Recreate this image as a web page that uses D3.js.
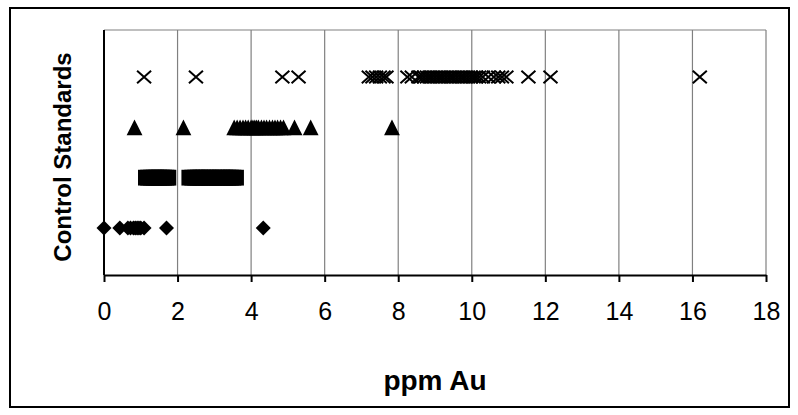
<!DOCTYPE html>
<html>
<head>
<meta charset="utf-8">
<script src="https://cdn.jsdelivr.net/npm/d3@7"></script>
<style>
  body { margin: 0; background: #fff; }
  text { font-family: Arial, "Liberation Sans", sans-serif; }
</style>
</head>
<body>
<div id="viz"></div>
<script>
// each control standard is a row, values in ppm Au
var diamondVals = [0, 0.43, 0.65, 0.72, 0.8, 0.85, 0.9, 0.95, 1.0, 1.09, 1.7, 4.33];
var squareVals = [1.14, 1.2, 1.28, 1.35, 1.42, 1.5, 1.57, 1.63, 1.7, 1.75,
  2.32, 2.4, 2.48, 2.55, 2.62, 2.7, 2.78, 2.85, 2.9, 3.0, 3.08, 3.15, 3.22,
  3.3, 3.38, 3.45, 3.52, 3.59];
var triangleVals = [0.83, 2.16, 3.54, 3.62, 3.7, 3.78, 3.85, 3.92, 4.0, 4.05,
  4.1, 4.15, 4.2, 4.28, 4.35, 4.42, 4.5, 4.58, 4.65, 4.72, 4.8, 4.88, 5.18,
  5.62, 7.83];
var crossVals = [1.09, 2.5, 4.85, 5.29, 7.2, 7.3, 7.4, 7.5, 7.6, 7.68, 8.25,
  8.37, 8.55, 8.62, 8.7, 8.78, 8.85, 8.92, 9.0, 9.08, 9.15, 9.22, 9.3, 9.38,
  9.45, 9.52, 9.6, 9.68, 9.75, 9.82, 9.9, 9.98, 10.05, 10.12, 10.2, 10.3,
  10.45, 10.6, 10.72, 10.82, 10.94, 11.54, 12.14, 16.2];
var rowLevels = [1, 2, 3, 4];
var xTicks = [0, 2, 4, 6, 8, 10, 12, 14, 16, 18];
var xTitle = 'ppm Au';
var yTitle = 'Control Standards';

var width = 798, height = 415;
var plotL = 104, plotR = 766, plotT = 30, plotB = 275;

var svg = d3.select('#viz').append('svg')
  .attr('width', width)
  .attr('height', height);

svg.append('rect')
  .attr('x', 10).attr('y', 8)
  .attr('width', 779).attr('height', 399)
  .attr('fill', '#fff')
  .attr('stroke', '#000')
  .attr('stroke-width', 2);

var x = d3.scaleLinear().domain([0, 18]).range([plotL, plotR]);
// rows sit at even steps inside the plot
var y = d3.scaleLinear().domain([1, 4]).range([228, 77]);

// gridlines + top border
svg.append('g')
  .selectAll('line').data(xTicks.slice(1))
  .enter().append('line')
    .attr('x1', function(d) { return x(d); })
    .attr('x2', function(d) { return x(d); })
    .attr('y1', plotT).attr('y2', plotB)
    .attr('stroke', '#808080')
    .attr('stroke-width', 1.2);
svg.append('line')
  .attr('x1', plotL).attr('x2', plotR)
  .attr('y1', plotT).attr('y2', plotT)
  .attr('stroke', '#808080')
  .attr('stroke-width', 1.2);

// x axis
var xAxis = svg.append('g')
  .attr('transform', 'translate(0,' + plotB + ')')
  .call(d3.axisBottom(x).tickValues(xTicks).tickSize(7).tickPadding(20).tickSizeOuter(0));
xAxis.select('.domain').attr('stroke', '#000').attr('stroke-width', 2);
xAxis.selectAll('.tick line').attr('stroke', '#000').attr('stroke-width', 2);
xAxis.selectAll('.tick text')
  .attr('font-size', 25)
  .attr('font-family', 'Arial, "Liberation Sans", sans-serif')
  .attr('fill', '#000');

// y axis line
svg.append('line')
  .attr('x1', plotL).attr('x2', plotL)
  .attr('y1', plotT).attr('y2', plotB)
  .attr('stroke', '#000')
  .attr('stroke-width', 2);

// custom marker shapes
var diamondShape = {
  draw: function(ctx, size) {
    var r = Math.sqrt(size) / 2;
    ctx.moveTo(0, -r); ctx.lineTo(r, 0); ctx.lineTo(0, r); ctx.lineTo(-r, 0); ctx.closePath();
  }
};
var squareShape = {
  draw: function(ctx, size) {
    var r = Math.sqrt(size) / 2;
    ctx.rect(-r, -r, 2 * r, 2 * r);
  }
};
var triangleShape = {
  draw: function(ctx, size) {
    var r = Math.sqrt(size) / 2;
    ctx.moveTo(0, -r); ctx.lineTo(r, r); ctx.lineTo(-r, r); ctx.closePath();
  }
};
var crossShape = {
  draw: function(ctx, size) {
    var r = Math.sqrt(size) / 2;
    ctx.moveTo(-r, -r * 0.9); ctx.lineTo(r, r * 0.9);
    ctx.moveTo(r, -r * 0.9); ctx.lineTo(-r, r * 0.9);
  }
};

var series = [
  { vals: diamondVals, shape: diamondShape, size: 225, fill: '#000', stroke: 'none' },
  { vals: squareVals, shape: squareShape, size: 250, fill: '#000', stroke: 'none' },
  { vals: triangleVals, shape: triangleShape, size: 250, fill: '#000', stroke: 'none' },
  { vals: crossVals, shape: crossShape, size: 196, fill: 'none', stroke: '#000' }
];

series.forEach(function(s, i) {
  var row = rowLevels[i];
  svg.append('g')
    .selectAll('path').data(s.vals)
    .enter().append('path')
      .attr('d', d3.symbol().type(s.shape).size(s.size))
      .attr('transform', function(d) {
        return 'translate(' + x(d) + ',' + y(row) + ')';
      })
      .attr('fill', s.fill)
      .attr('stroke', s.stroke)
      .attr('stroke-width', 2);
});

// titles
svg.append('text')
  .attr('x', (plotL + plotR) / 2)
  .attr('y', 390)
  .attr('text-anchor', 'middle')
  .attr('font-size', 28)
  .attr('font-weight', 'bold')
  .text(xTitle);

svg.append('text')
  .attr('transform', 'translate(71,157) rotate(-90)')
  .attr('text-anchor', 'middle')
  .attr('font-size', 24)
  .attr('font-weight', 'bold')
  .text(yTitle);
</script>
</body>
</html>
